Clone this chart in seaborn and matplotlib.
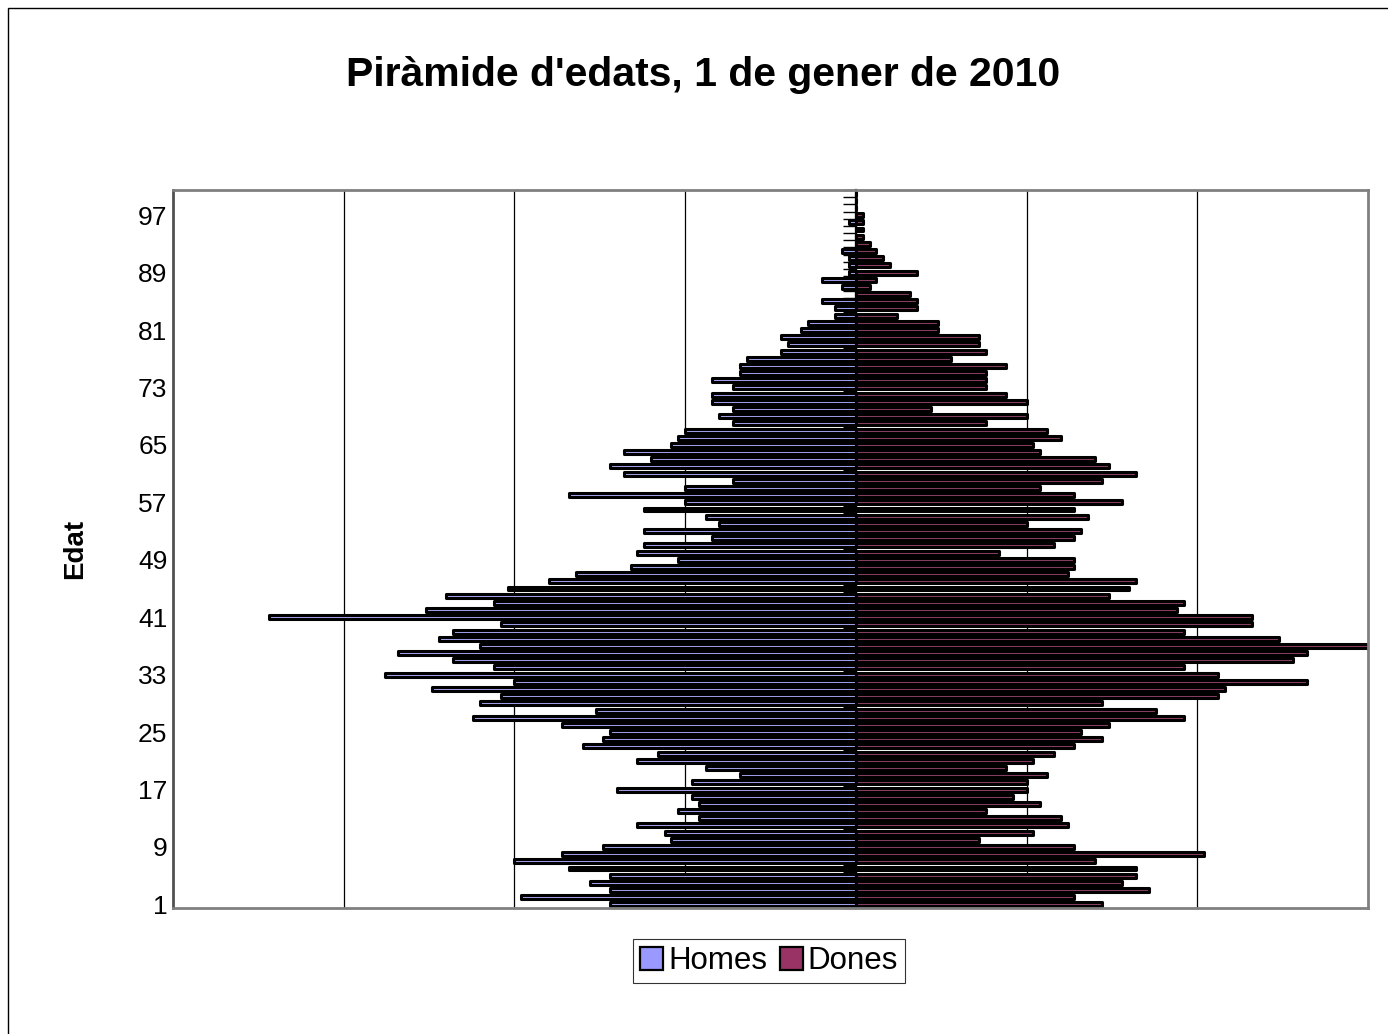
import matplotlib
matplotlib.use("Agg")
import matplotlib.pyplot as plt
import seaborn as sns
import pandas as pd
import numpy as np
from matplotlib.patches import Patch, Rectangle

# ---------------- data ----------------
ages = list(range(1, 101))
homes = [36, 49, 36, 39, 36, 42, 50, 43, 37, 27,
         28, 32, 23, 26, 23, 24, 35, 24, 17, 22,
         32, 29, 40, 37, 36, 43, 56, 38, 55, 52,
         62, 50, 69, 53, 59, 67, 55, 61, 59, 52,
         86, 63, 53, 60, 51, 45, 41, 33, 26, 32,
         31, 21, 31, 20, 22, 31, 25, 42, 25, 18,
         34, 36, 30, 34, 27, 26, 25, 18, 20, 18,
         21, 21, 18, 21, 17, 17, 16, 11, 10, 11,
         8, 7, 3, 3, 5, 0, 2, 5, 1, 1,
         1, 2, 0, 0, 0, 1, 0, 0, 0, 0]
dones = [36, 32, 43, 39, 41, 41, 35, 51, 32, 18,
         26, 31, 30, 19, 27, 23, 25, 25, 28, 22,
         26, 29, 32, 36, 33, 37, 48, 44, 36, 53,
         54, 66, 53, 48, 64, 66, 75, 62, 48, 58,
         58, 47, 48, 37, 40, 41, 31, 32, 32, 21,
         29, 32, 33, 25, 34, 32, 39, 32, 27, 36,
         41, 37, 35, 27, 26, 30, 28, 19, 25, 11,
         25, 22, 19, 19, 19, 22, 14, 19, 18, 18,
         12, 12, 6, 9, 9, 8, 2, 3, 9, 5,
         4, 3, 2, 1, 1, 1, 1, 0, 0, 0]
tick_ages = list(range(1, 101, 8))
series = ["Homes", "Dones"]
colors = ["#9999FF", "#993366"]
title = "Piràmide d'edats, 1 de gener de 2010"
ylabel = "Edat"
x_grid = [-75, -50, -25, 0, 25, 50]
x_limits = (-100, 75)

# ---------------- style ----------------
sns.set_style("white")
plt.rcParams["font.family"] = ["Liberation Sans", "DejaVu Sans"]
plt.rcParams["text.color"] = "black"
plt.rcParams["axes.labelcolor"] = "black"
plt.rcParams["xtick.color"] = "black"
plt.rcParams["ytick.color"] = "black"

df = pd.DataFrame({
    "Edat": [str(a) for a in ages] * 2,
    "Valor": [-v for v in homes] + list(dones),
    "Sexe": ["Homes"] * len(ages) + ["Dones"] * len(ages),
})
order = [str(a) for a in ages[::-1]]

W, H = 1388, 1034
fig = plt.figure(figsize=(W / 100, H / 100), dpi=100)
ax = fig.add_axes([173 / W, 1 - 908 / H, (1368 - 173) / W, (908 - 190) / H])

sns.barplot(data=df, x="Valor", y="Edat", hue="Sexe", order=order,
            hue_order=series, palette=colors, dodge=False, width=0.55,
            edgecolor="black", linewidth=2.2, errorbar=None, legend=False,
            orient="h", ax=ax)
for p in ax.patches:
    p.set_joinstyle("round")
    p.set_capstyle("round")

ax.set_xlim(*x_limits)
ax.set_xticks(x_grid)
ax.set_xticklabels([])
ax.tick_params(axis="x", length=0)
ax.grid(axis="x", color="black", linewidth=0.9)
ax.grid(axis="y", visible=False)
ax.set_axisbelow(True)
ax.set_xlabel("")

ypos = [order.index(str(a)) for a in tick_ages]
ax.set_yticks(ypos)
ax.set_yticklabels([str(a) for a in tick_ages], fontsize=19)
ax.set_yticks(np.arange(-0.5, len(ages), 1), minor=True)
ax.tick_params(axis="y", which="major", length=0, pad=4)
ax.tick_params(axis="y", which="minor", length=3.5, width=1, color="black",
               direction="out")
ax.set_ylim(len(ages) - 0.5, -0.5)
ax.set_ylabel(ylabel, fontsize=20, fontweight="bold")
ax.yaxis.set_label_coords(-0.071, 0.5)

for s in ax.spines.values():
    s.set_color("#808080")
    s.set_linewidth(2)
ax.spines["left"].set_color("#505050")

# category axis crossing at zero
zero_frac = (0 - x_limits[0]) / (x_limits[1] - x_limits[0])
secax = ax.secondary_yaxis(zero_frac)
secax.set_alignment("left")
secax.set_yticks(np.arange(-0.5, len(ages), 1))
secax.tick_params(axis="y", which="major", direction="out", length=9.5,
                  width=1, color="black", labelleft=False, labelright=False)
secax.tick_params(axis="y", which="minor", length=0)
secax.spines["left"].set_color("black")
secax.spines["left"].set_linewidth(1.6)

fig.text(703.5 / W, 1 - 75 / H, title, ha="center", va="center",
         fontsize=29.5, fontweight="bold")

handles = [Patch(facecolor=c, edgecolor="black", linewidth=1.6) for c in colors]
leg = fig.legend(handles, series, loc="center",
                 bbox_to_anchor=(769 / W, 1 - 961 / H), ncol=2, fontsize=22.5,
                 frameon=True, fancybox=False, edgecolor="black",
                 handlelength=0.75, handleheight=0.75, handletextpad=0.15,
                 columnspacing=0.4, borderpad=0.22)
leg.get_frame().set_linewidth(0.8)

fig.patches.append(Rectangle((8 / W, -0.01), 1.0, 1 - 8 / H + 0.01,
                             transform=fig.transFigure, fill=False,
                             edgecolor="black", linewidth=1))

fig.savefig("out.png", dpi=100)
